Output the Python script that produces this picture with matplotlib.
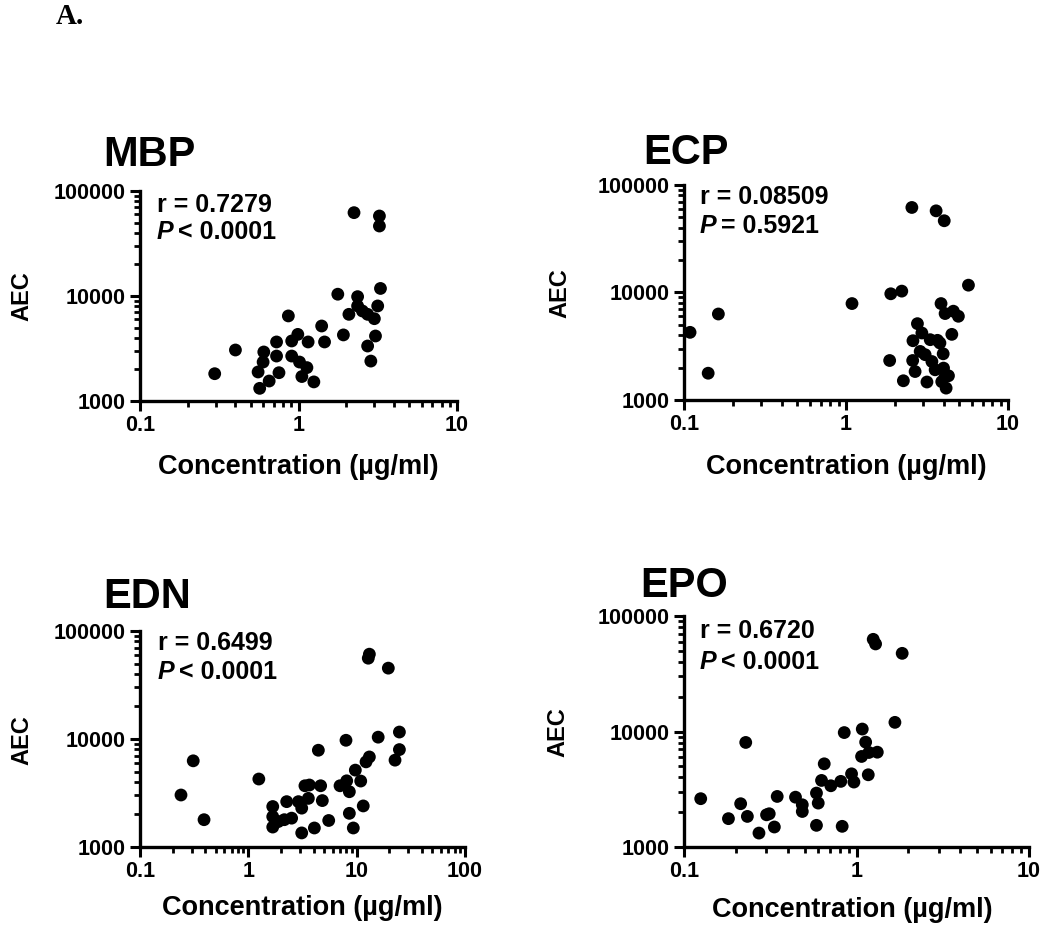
import matplotlib
matplotlib.use("Agg")
import matplotlib.pyplot as plt
from matplotlib.ticker import FixedLocator, LogLocator, NullFormatter, FixedFormatter

plt.rcParams['font.family'] = ['Liberation Sans', 'DejaVu Sans']

# ---------------- data ----------------
mbp_x = [0.296, 0.40, 0.556, 0.569, 0.598, 0.604, 0.653, 0.727, 0.727, 0.753, 0.863, 0.906,
         0.906, 0.99, 1.015, 1.05, 1.13, 1.15, 1.25, 1.40, 1.46, 1.77, 1.92, 2.08, 2.24, 2.36,
         2.36, 2.53, 2.73, 2.73, 2.86, 3.01, 3.06, 3.16, 3.24, 3.24, 3.29]
mbp_y = [1820, 3060, 1890, 1320, 2350, 2930, 1550, 3650, 2680, 1860, 6460, 3730,
         2680, 4310, 2350, 1710, 2080, 3650, 1520, 5180, 3650, 10400, 4260, 6690, 62200, 9860,
         8040, 7200, 6690, 3340, 2400, 6080, 4160, 8040, 57800, 46400, 11800]

ecp_x = [0.109, 0.141, 0.163, 1.089, 1.86, 1.89, 2.21, 2.26, 2.55, 2.58, 2.67, 2.59, 2.76,
         2.94, 2.87, 3.08, 3.16, 3.31, 3.39, 3.60, 3.67, 3.55, 3.80, 3.98, 3.86, 4.04, 4.0,
         4.09, 4.09, 4.15, 4.29, 4.50, 4.60, 4.94, 5.70, 3.9]
ecp_y = [4260, 1775, 6310, 7890, 2330, 9730, 10300, 1510, 61800, 2330, 1840, 3560, 5130,
         4200, 2830, 2640, 1470, 3640, 2280, 57500, 3590, 1910, 3390, 2690, 7890, 46500, 1980,
         6370, 1650, 1290, 1680, 4080, 6700, 6010, 11700, 1480]

edn_x = [0.239, 0.31, 0.39, 1.25, 1.68, 1.68, 1.68, 1.89, 2.26, 2.15, 2.51, 2.90, 3.11, 3.11,
         3.33, 3.58, 3.66, 4.07, 4.43, 4.65, 4.82, 5.52, 7.02, 7.97, 8.09, 8.56, 8.56, 9.31,
         9.72, 10.9, 11.5, 12.2, 13.1, 13.1, 12.8, 15.8, 19.6, 22.6, 24.8, 24.8]
edn_y = [3030, 6280, 1790, 4260, 2370, 1910, 1530, 1720, 2630, 1790, 1850, 2630, 2290, 1350,
         3690, 2820, 3750, 1500, 7870, 3690, 2690, 1760, 3690, 9730, 4100, 3250, 2050, 1500,
         5150, 4080, 2400, 6140, 6820, 61000, 56000, 10400, 45300, 6370, 7980, 11600]

epo_x = [0.125, 0.181, 0.213, 0.228, 0.233, 0.272, 0.301, 0.312, 0.334, 0.347, 0.443, 0.485,
         0.485, 0.586, 0.60, 0.586, 0.627, 0.65, 0.71, 0.811, 0.826, 0.849, 0.936, 0.966, 1.07,
         1.08, 1.13, 1.17, 1.18, 1.25, 1.29, 1.32, 1.67, 1.84]
epo_y = [2620, 1760, 2370, 8040, 1840, 1320, 1900, 1940, 1490, 2740, 2700, 2320,
         2030, 2930, 2400, 1540, 3770, 5250, 3390, 3700, 1510, 9790, 4300, 3650, 6080,
         10500, 8090, 4220, 6580, 62800, 57300, 6620, 12000, 47500]

titles = ["MBP", "ECP", "EDN", "EPO"]
r_texts = ["r = 0.7279", "r = 0.08509", "r = 0.6499", "r = 0.6720"]
p_texts = ["< 0.0001", "= 0.5921", "< 0.0001", "< 0.0001"]
x_ticks = [[0.1, 1, 10], [0.1, 1, 10], [0.1, 1, 10, 100], [0.1, 1, 10]]
x_ticklabels = [["0.1", "1", "10"], ["0.1", "1", "10"], ["0.1", "1", "10", "100"], ["0.1", "1", "10"]]
y_ticks = [1000, 10000, 100000]
y_ticklabels = ["1000", "10000", "100000"]
x_label = "Concentration (\u00b5g/ml)"
y_label = "AEC"

# ---------------- layout ----------------
W, H = 1050, 938
fig = plt.figure(figsize=(W / 100, H / 100), dpi=100)

def fx(px):
    return px / W

def fy(py):
    return 1 - py / H

# axes boxes in pixels: left, top, right, bottom
boxes = [(140, 191, 457, 401), (684, 185, 1008, 400),
         (140, 631, 465, 847), (684, 616, 1029, 847)]
title_pos = [(103, 155), (643, 153), (103, 597), (640, 586)]
stat_pos = [(157, 205, 232), (700, 197, 226), (158, 643, 672), (700, 631, 662)]
ylab_pos = [(22, 296), (560, 293), (22, 740), (558, 732)]
xlab_pos = [(298, 467), (846, 467), (302, 908), (852, 910)]

datasets = [(mbp_x, mbp_y), (ecp_x, ecp_y), (edn_x, edn_y), (epo_x, epo_y)]

for i, (xs, ys) in enumerate(datasets):
    l, t, r, b = boxes[i]
    ax = fig.add_axes([fx(l), fy(b), (r - l) / W, (b - t) / H])
    ax.scatter(xs, ys, s=85, color='black', edgecolors='none', zorder=3, clip_on=False)
    ax.set_xscale('log')
    ax.set_yscale('log')
    ax.set_xlim(x_ticks[i][0], x_ticks[i][-1])
    ax.set_ylim(1000, 100000)
    ax.xaxis.set_major_locator(FixedLocator(x_ticks[i]))
    ax.xaxis.set_major_formatter(FixedFormatter(x_ticklabels[i]))
    ax.xaxis.set_minor_locator(LogLocator(base=10, subs=range(2, 10)))
    ax.xaxis.set_minor_formatter(NullFormatter())
    ax.yaxis.set_major_locator(FixedLocator(y_ticks))
    ax.yaxis.set_major_formatter(FixedFormatter(y_ticklabels))
    ax.yaxis.set_minor_locator(LogLocator(base=10, subs=range(2, 10)))
    ax.yaxis.set_minor_formatter(NullFormatter())
    for s in ['top', 'right']:
        ax.spines[s].set_visible(False)
    for s in ['left', 'bottom']:
        ax.spines[s].set_linewidth(2.4)
    ax.tick_params(which='major', length=7, width=2.2, direction='out', pad=3,
                   labelsize=15.5)
    ax.tick_params(which='minor', length=4, width=2.0, direction='out')
    for lab in ax.get_xticklabels() + ax.get_yticklabels():
        lab.set_fontweight('bold')

    tx, ty = title_pos[i]
    fig.text(fx(tx), fy(ty), titles[i], fontsize=30, fontweight='bold', ha='left', va='center')
    sx, sy1, sy2 = stat_pos[i]
    fig.text(fx(sx), fy(sy1), r_texts[i], fontsize=18, fontweight='bold', ha='left', va='center')
    fig.text(fx(sx), fy(sy2), "P", fontsize=18, fontweight='bold', style='italic',
             ha='left', va='center')
    fig.text(fx(sx + 21), fy(sy2), p_texts[i], fontsize=18, fontweight='bold', ha='left', va='center')
    yx, yy = ylab_pos[i]
    fig.text(fx(yx), fy(yy), y_label, fontsize=17, fontweight='bold', rotation=90,
             ha='center', va='center')
    xx, xy = xlab_pos[i]
    fig.text(fx(xx), fy(xy), x_label, fontsize=19.5, fontweight='bold', ha='center', va='center')

fig.text(fx(70), fy(17), "A.", fontsize=21, fontweight='bold', family='Liberation Serif',
         ha='center', va='center')

fig.savefig("out.png", dpi=100, facecolor='white')
